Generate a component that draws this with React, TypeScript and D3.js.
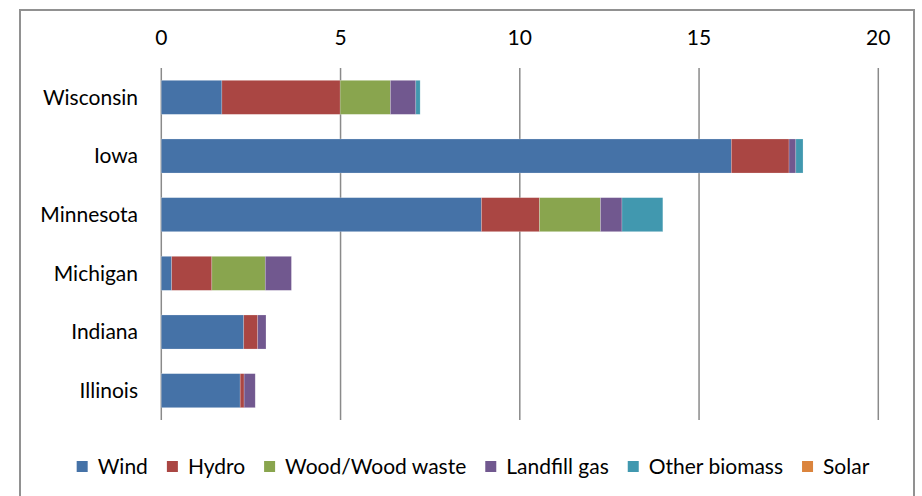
import { useRef, useEffect } from 'react';
import * as d3 from 'd3';

const states = ['Wisconsin', 'Iowa', 'Minnesota', 'Michigan', 'Indiana', 'Illinois'];
const sources = ['Wind', 'Hydro', 'Wood/Wood waste', 'Landfill gas', 'Other biomass', 'Solar'];
const colors = ['#4572A7', '#AA4643', '#89A54E', '#71588F', '#4198AF', '#DB843D'];

const wind = [1.69, 15.9, 8.93, 0.29, 2.3, 2.2];
const hydro = [3.3, 1.61, 1.62, 1.12, 0.39, 0.11];
const wood = [1.4, 0, 1.7, 1.49, 0, 0];
const landfill = [0.71, 0.19, 0.6, 0.73, 0.23, 0.31];
const otherBiomass = [0.12, 0.2, 1.14, 0, 0, 0];
const solar = [0, 0, 0, 0, 0, 0];
const xTicks = [0, 5, 10, 15, 20];

const seriesValues = [wind, hydro, wood, landfill, otherBiomass, solar];

export default function App() {
  const svgRef = useRef<SVGSVGElement>(null);

  useEffect(() => {
    document.body.style.margin = '0';
    const el = svgRef.current;
    if (!el) return;
    const svg = d3.select(el);
    svg.selectAll('*').remove();

    const font = 'Lato, "Open Sans", sans-serif';
    const fs = 21;

    // outer chart frame
    svg.append('rect')
      .attr('x', 20).attr('y', 10).attr('width', 894).attr('height', 520)
      .attr('fill', '#fff').attr('stroke', '#919191').attr('stroke-width', 2);

    const plot = { left: 161.3, right: 878.3, top: 68, bottom: 420 };

    const x = d3.scaleLinear().domain([0, 20]).range([plot.left, plot.right]);
    const y = d3.scaleBand().domain(states).range([plot.top, plot.bottom]).paddingInner(0.42).paddingOuter(0.21);

    const rows = states.map((s, i) => {
      const r: Record<string, number | string> = { state: s };
      sources.forEach((src, j) => { r[src] = seriesValues[j][i]; });
      return r;
    });
    const stacked = d3.stack<Record<string, number | string>>().keys(sources)(rows as any);

    // gridlines
    svg.append('g').selectAll('line').data(xTicks).join('line')
      .attr('x1', (d) => x(d)).attr('x2', (d) => x(d))
      .attr('y1', plot.top).attr('y2', plot.bottom)
      .attr('stroke', '#8a8a8a').attr('stroke-width', 1.5);

    // tick labels on top
    svg.append('g').selectAll('text').data(xTicks).join('text')
      .attr('x', (d) => x(d)).attr('y', 45)
      .attr('text-anchor', 'middle')
      .attr('font-family', font).attr('font-size', fs).attr('fill', '#000')
      .text((d) => String(d));

    // bars
    const g = svg.append('g');
    stacked.forEach((layer, j) => {
      g.append('g').selectAll('rect').data(layer).join('rect')
        .attr('x', (d) => x(d[0]))
        .attr('y', (_, i) => y(states[i]) ?? 0)
        .attr('width', (d) => Math.max(0, x(d[1]) - x(d[0])))
        .attr('height', y.bandwidth())
        .attr('fill', colors[j])
        .attr('stroke', 'rgba(255,255,255,0.35)').attr('stroke-width', 0.6);
    });

    // category labels
    svg.append('g').selectAll('text').data(states).join('text')
      .attr('x', 138).attr('y', (d) => (y(d) ?? 0) + y.bandwidth() / 2)
      .attr('dy', '0.35em').attr('text-anchor', 'end')
      .attr('font-family', font).attr('font-size', fs).attr('fill', '#000')
      .text((d) => d);

    // legend
    const lg = svg.append('g');
    let lx = 0;
    const gap = 19;
    sources.forEach((src, j) => {
      const item = lg.append('g').attr('transform', `translate(${lx},0)`);
      item.append('rect').attr('x', 0).attr('y', -6).attr('width', 11).attr('height', 11).attr('fill', colors[j]);
      const t = item.append('text').attr('x', 21).attr('y', 0).attr('dy', '0.35em')
        .attr('font-family', font).attr('font-size', fs).attr('fill', '#000').text(src);
      const w = (t.node() as SVGTextElement).getComputedTextLength();
      lx += 21 + w + gap;
    });
    const total = lx - gap;
    lg.attr('transform', `translate(${(81 + 865) / 2 - total / 2},467)`);
  }, []);

  return <svg ref={svgRef} width={922} height={496} style={{ display: 'block' }} />;
}
